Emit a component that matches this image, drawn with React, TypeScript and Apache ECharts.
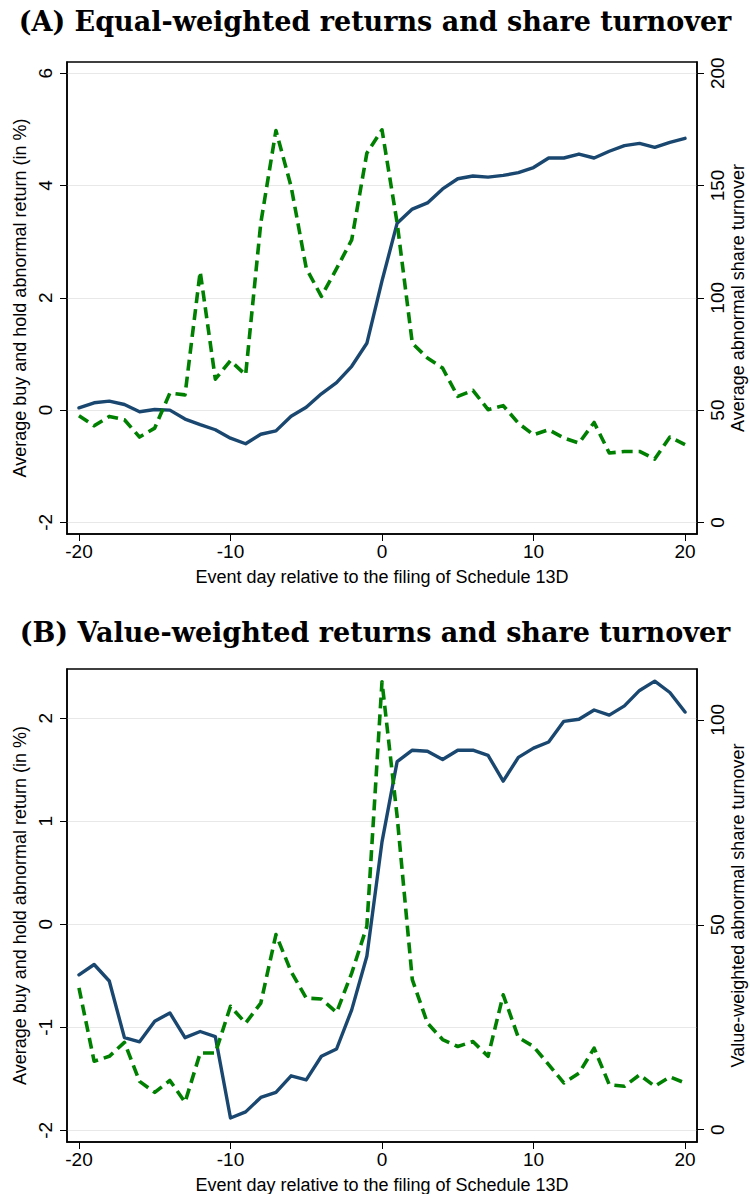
import React, { useEffect, useRef } from "react";
import * as echarts from "echarts";

const days = [-20, -19, -18, -17, -16, -15, -14, -13, -12, -11, -10, -9, -8, -7, -6, -5, -4, -3, -2, -1, 0, 1, 2, 3, 4, 5, 6, 7, 8, 9, 10, 11, 12, 13, 14, 15, 16, 17, 18, 19, 20];

// Panel A: equal-weighted
const retA = [0.04, 0.13, 0.16, 0.10, -0.03, 0.01, 0.00, -0.16, -0.26, -0.35, -0.50, -0.60, -0.43, -0.37, -0.11, 0.05, 0.29, 0.49, 0.78, 1.19, 2.30, 3.33, 3.58, 3.69, 3.94, 4.12, 4.17, 4.15, 4.18, 4.23, 4.32, 4.49, 4.49, 4.56, 4.49, 4.61, 4.71, 4.75, 4.68, 4.77, 4.84];
const turnA = [47.5, 43, 47.2, 45.7, 38, 42, 57.6, 56.8, 111.7, 63.8, 72, 65.7, 133.3, 174.5, 149.6, 113.2, 100.6, 113, 125.8, 164.4, 174.8, 133.3, 79.8, 73.2, 68.7, 56.1, 58.8, 50.2, 52, 44.2, 39, 41.3, 37.6, 35.3, 44.5, 30.9, 31.6, 31.6, 28.2, 38, 34.6];

// Panel B: value-weighted
const retB = [-0.49, -0.39, -0.55, -1.10, -1.14, -0.94, -0.86, -1.10, -1.04, -1.09, -1.88, -1.82, -1.68, -1.63, -1.47, -1.51, -1.28, -1.21, -0.83, -0.31, 0.80, 1.58, 1.69, 1.68, 1.60, 1.69, 1.69, 1.64, 1.39, 1.62, 1.71, 1.77, 1.97, 1.99, 2.08, 2.03, 2.12, 2.27, 2.36, 2.25, 2.06];
const turnB = [34.6, 16.7, 17.9, 21.3, 11.8, 9.1, 12, 6.7, 18.7, 18.7, 30.1, 26, 30.9, 47.6, 38.6, 32.1, 31.9, 28.6, 38.2, 49.6, 109.3, 76.4, 36.6, 26, 22, 20.3, 21.5, 17.9, 32.9, 22.5, 20.3, 15.9, 11.4, 13.8, 19.9, 11, 10.6, 13.4, 10.6, 12.9, 11.4];

const xTicks = [-20, -10, 0, 10, 20];
const leftTicksA = [-2, 0, 2, 4, 6];
const rightTicksA = [0, 50, 100, 150, 200];
const leftTicksB = [-2, -1, 0, 1, 2];
const rightTicksB = [0, 50, 100];

const titleA = "(A) Equal-weighted returns and share turnover";
const titleB = "(B) Value-weighted returns and share turnover";
const xName = "Event day relative to the filing of Schedule 13D";
const leftName = "Average buy and hold abnormal return (in %)";
const rightNameA = "Average abnormal share turnover";
const rightNameB = "Value-weighted abnormal share turnover";

const FONT = "'Liberation Sans', Arial, sans-serif";
const SERIF = "'DejaVu Serif', 'Liberation Serif', serif";
const BLUE = "#1a476f";
const GREEN = "#008000";

function pairs(ys: number[]) {
  return days.map((d, i) => [d, ys[i]]);
}

function xAxis(gridIndex: number) {
  return {
    type: "value",
    gridIndex,
    min: -20.79,
    max: 20.79,
    position: "bottom",
    name: xName,
    nameLocation: "middle",
    nameGap: 34,
    nameMoveOverlap: false,
    nameTextStyle: { color: "#000", fontSize: 18, fontFamily: FONT },
    axisLine: { show: true, onZero: false, lineStyle: { color: "#000", width: 1.5 } },
    axisTick: { show: true, length: 7, customValues: xTicks, lineStyle: { color: "#000", width: 1 } },
    axisLabel: { customValues: xTicks, color: "#000", fontSize: 19, fontFamily: FONT, margin: 8 },
    splitLine: { show: false },
  };
}

function leftAxis(gridIndex: number, min: number, max: number, ticks: number[]) {
  return {
    type: "value",
    gridIndex,
    position: "left",
    min,
    max,
    name: leftName,
    nameLocation: "middle",
    nameRotate: 90,
    nameGap: 38,
    nameMoveOverlap: false,
    nameTextStyle: { color: "#000", fontSize: 18, fontFamily: FONT },
    axisLine: { show: true, onZero: false, lineStyle: { color: "#000", width: 1.5 } },
    axisTick: { show: true, length: 7, customValues: ticks, lineStyle: { color: "#000", width: 1 } },
    axisLabel: { customValues: ticks, rotate: 90, color: "#000", fontSize: 19, fontFamily: FONT, margin: 12 },
    splitLine: { show: true, lineStyle: { color: "#e8e8e8", width: 1.2 } },
  };
}

function rightAxis(gridIndex: number, min: number, max: number, ticks: number[], name: string) {
  return {
    type: "value",
    gridIndex,
    position: "right",
    min,
    max,
    name,
    nameLocation: "middle",
    nameRotate: 90,
    nameGap: 32,
    nameMoveOverlap: false,
    nameTextStyle: { color: "#000", fontSize: 18, fontFamily: FONT },
    axisLine: { show: true, onZero: false, lineStyle: { color: "#000", width: 1.5 } },
    axisTick: { show: true, length: 7, customValues: ticks, lineStyle: { color: "#000", width: 1 } },
    axisLabel: { customValues: ticks, rotate: 90, color: "#000", fontSize: 19, fontFamily: FONT, margin: 11 },
    splitLine: { show: false },
  };
}

function solid(xi: number, yi: number, data: number[]) {
  return {
    type: "line",
    xAxisIndex: xi,
    yAxisIndex: yi,
    data: pairs(data),
    showSymbol: false,
    symbol: "none",
    lineStyle: { color: BLUE, width: 3.4, cap: "round", join: "round" },
    z: 3,
  };
}

function dashed(xi: number, yi: number, data: number[]) {
  return {
    type: "line",
    xAxisIndex: xi,
    yAxisIndex: yi,
    data: pairs(data),
    showSymbol: false,
    symbol: "none",
    lineStyle: { color: GREEN, width: 3.6, type: [11, 6], join: "round" },
    z: 4,
  };
}

export default function App() {
  const ref = useRef<HTMLDivElement>(null);
  useEffect(() => {
    document.body.style.margin = "0";
    const chart = echarts.init(ref.current!, null, { renderer: "svg" });
    const option: any = {
      animation: false,
      backgroundColor: "#fff",
      title: [
        {
          text: titleA,
          left: "center",
          top: 3,
          textStyle: { fontFamily: SERIF, fontWeight: "bold", fontSize: 27, color: "#000" },
        },
        {
          text: titleB,
          left: "center",
          top: 614,
          textStyle: { fontFamily: SERIF, fontWeight: "bold", fontSize: 27, color: "#000" },
        },
      ],
      grid: [
        { left: 67, top: 62, width: 630, height: 472, outerBoundsMode: "none", containLabel: false, show: true, borderColor: "#000", borderWidth: 1.5, backgroundColor: "#fff" },
        { left: 67, top: 669, width: 630, height: 473, outerBoundsMode: "none", containLabel: false, show: true, borderColor: "#000", borderWidth: 1.5, backgroundColor: "#fff" },
      ],
      xAxis: [xAxis(0), xAxis(1)],
      yAxis: [
        leftAxis(0, -2.207, 6.2, leftTicksA),
        rightAxis(0, -5.16, 205.0, rightTicksA, rightNameA),
        leftAxis(1, -2.1125, 2.478, leftTicksB),
        rightAxis(1, -3.0, 112.4, rightTicksB, rightNameB),
      ],
      series: [
        dashed(0, 1, turnA),
        solid(0, 0, retA),
        dashed(1, 3, turnB),
        solid(1, 2, retB),
      ],
    };
    chart.setOption(option);
    return () => chart.dispose();
  }, []);
  return <div ref={ref} style={{ width: 750, height: 1194 }} />;
}
